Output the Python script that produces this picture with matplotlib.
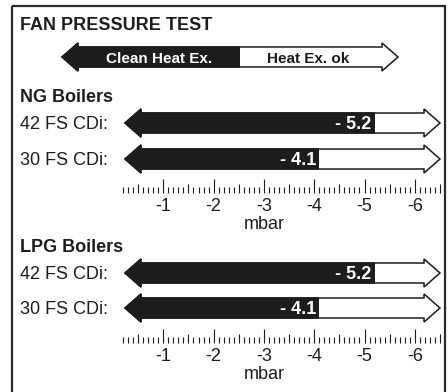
import numpy as np
import matplotlib
matplotlib.use("Agg")
import matplotlib.pyplot as plt
from matplotlib.patches import Polygon, Rectangle

matplotlib.rcParams['font.family'] = 'Liberation Sans'

# data (mbar)
groups = ["NG Boilers", "LPG Boilers"]
models = ["42 FS CDi:", "30 FS CDi:"]
ng_values = [-5.2, -4.1]
lpg_values = [-5.2, -4.1]
major_ticks = [-1, -2, -3, -4, -5, -6]
scale_start, scale_end = -0.2, -6.5
legend_left = "Clean Heat Ex."
legend_right = "Heat Ex. ok"

W, H = 448, 392
X0, S = 113.0, 50.3   # pixel of 0 mbar, pixels per mbar
ink = '#1d1d1b'
fs = 13

def px(x):
    # figure pixel -> mbar
    return (X0 - x) / S

fig = plt.figure(figsize=(W / 100, H / 100), dpi=100)
ax = fig.add_axes([0, 0, 1, 1])
ax.set_xlim(px(0), px(W))
ax.set_ylim(H, 0)
ax.axis('off')

def arrow_pts(y, left, right, hl=16 / S, sh=10, hh=14):
    return [(left, y), (left - hl, y - hh), (left - hl, y - sh),
            (right + hl, y - sh), (right + hl, y - hh), (right, y),
            (right + hl, y + hh), (right + hl, y + sh),
            (left - hl, y + sh), (left - hl, y + hh)]

def double_arrow(y, left, right, split):
    pts = arrow_pts(y, left, right)
    ax.add_patch(Polygon(pts, closed=True, fc='white', ec=ink, lw=1.1, joinstyle='miter'))
    dark = Polygon(pts, closed=True, fc=ink, ec=ink, lw=1.1, joinstyle='miter')
    ax.add_patch(dark)
    clip = Rectangle((split, y - 20), left + 1 - split, 40, transform=ax.transData)
    dark.set_clip_path(clip)

# frame
ax.add_patch(Rectangle((px(12.5), 5.5), px(445) - px(12.5), 420,
                       fill=False, ec='#2a2a2a', lw=1.6, clip_on=False))

# title and legend arrow
ax.text(px(20), 30, "FAN PRESSURE TEST", fontsize=fs, fontweight='bold',
        color=ink, va='baseline', ha='left')
double_arrow(57, px(62), px(398), px(240))
ax.text(px(159), 63, legend_left, fontsize=11, fontweight='bold',
        color='white', va='baseline', ha='center')
ax.text(px(308), 63, legend_right, fontsize=11, fontweight='bold',
        color=ink, va='baseline', ha='center')

def block(y_head, name, rows_y, values, y_scale):
    ax.text(px(20), y_head, name, fontsize=fs, fontweight='bold',
            color=ink, va='baseline', ha='left')
    for yy, label, v in zip(rows_y, models, values):
        ax.text(px(20), yy + 6, label, fontsize=fs, color=ink,
                va='baseline', ha='left')
        double_arrow(yy, px(125), px(440), v)
        ax.text(v + 3 / S, yy + 6, "- %.1f" % abs(v), fontsize=fs,
                fontweight='bold', color='white', va='baseline', ha='right')
    # scale
    n = int(round((scale_start - scale_end) * 10)) + 1
    for k in range(n):
        t = scale_start - 0.1 * k
        t10 = int(round(-t * 10))
        if t10 % 10 == 0:
            h = 14
        elif t10 % 5 == 0:
            h = 9
        else:
            h = 6
        ax.plot([t, t], [y_scale, y_scale - h], color=ink, lw=0.8,
                solid_capstyle='butt')
    for t in major_ticks:
        ax.text(t, y_scale + 18, "%d" % t, fontsize=fs, color=ink,
                va='baseline', ha='center')
    ax.text(-3, y_scale + 36, "mbar", fontsize=fs, color=ink,
            va='baseline', ha='center')

block(102, groups[0], [123, 159], ng_values, 193)
block(252, groups[1], [273, 308], lpg_values, 343)

fig.savefig("out.png", dpi=100)
